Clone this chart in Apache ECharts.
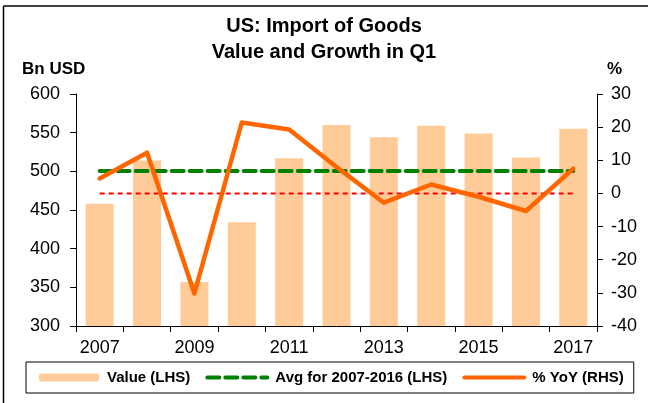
<!DOCTYPE html>
<html>
<head>
    <meta charset="UTF-8">
    <title>US: Import of Goods</title>
    <script type="text/javascript" src="https://cdn.jsdelivr.net/npm/echarts@6/dist/echarts.min.js"></script>
    <style>
        html, body { margin: 0; padding: 0; background: #fff; }
        #chart { width: 648px; height: 403px; }
    </style>
</head>
<body>
<div id="chart"></div>
<script>
    // data
    var years = ['2007', '2008', '2009', '2010', '2011', '2012', '2013', '2014', '2015', '2016', '2017'];
    var importValue = [458, 514, 357, 434, 517, 560, 544, 559, 549, 518, 555];
    var yoyGrowth = [4.5, 12.3, -30.2, 21.4, 19.3, 8.0, -2.8, 2.7, -1.0, -5.3, 7.5];
    var avgValue = 500.4;   // avg for 2007-2016
    var zeroLine = 0;       // red reference on RHS

    var avgData = years.map(function () { return avgValue; });
    var zeroData = years.map(function () { return zeroLine; });

    var font = 'Liberation Sans, Arial, sans-serif';
    var myChart = echarts.init(document.getElementById('chart'));

    myChart.setOption({
        animation: false,
        textStyle: { fontFamily: font },
        title: {
            text: 'US: Import of Goods\nValue and Growth in Q1',
            left: 'center',
            top: 8,
            textStyle: { fontSize: 20, fontWeight: 'bold', color: '#000', lineHeight: 26, fontFamily: font }
        },
        graphic: [
            // outer frame (top and left edges only)
            { type: 'line', shape: { x1: 3.5, y1: 6, x2: 648, y2: 6 }, style: { stroke: '#000', lineWidth: 1.5 } },
            { type: 'line', shape: { x1: 3.5, y1: 6, x2: 3.5, y2: 403 }, style: { stroke: '#000', lineWidth: 1.5 } },
            { type: 'text', left: 22, top: 61, style: { text: 'Bn USD', font: 'bold 17px ' + font, fill: '#000' } },
            { type: 'text', left: 607, top: 61, style: { text: '%', font: 'bold 17px ' + font, fill: '#000' } }
        ],
        legend: {
            left: 26,
            top: 362,
            padding: [8, 10, 8, 13],
            itemGap: 15,
            itemWidth: 60,
            itemHeight: 8,
            borderColor: '#000',
            borderWidth: 1,
            textStyle: { fontSize: 15, fontWeight: 'bold', color: '#000', fontFamily: font, padding: [0, 0, 0, 3] },
            data: [
                { name: 'Value (LHS)' },
                { name: 'Avg for 2007-2016 (LHS)', itemStyle: { opacity: 0 }, lineStyle: { width: 4 } },
                { name: '% YoY (RHS)', itemStyle: { opacity: 0 }, lineStyle: { width: 4 } }
            ]
        },
        grid: {
            left: 76,
            right: 51,
            top: 94,
            bottom: 77
        },
        xAxis: {
            type: 'category',
            data: years,
            boundaryGap: true,
            axisLine: { onZero: false, lineStyle: { color: '#000', width: 1 } },
            axisTick: { show: true, interval: 0, length: 6, lineStyle: { color: '#000' } },
            axisLabel: { interval: 1, color: '#000', fontSize: 18, margin: 13, fontFamily: font },
            splitLine: { show: false }
        },
        yAxis: [
            {
                type: 'value',
                min: 300,
                max: 600,
                interval: 50,
                axisLine: { show: true, lineStyle: { color: '#000', width: 1 } },
                axisTick: { show: true, length: 6, lineStyle: { color: '#000' } },
                axisLabel: { color: '#000', fontSize: 18, margin: 16, fontFamily: font },
                splitLine: { show: false }
            },
            {
                type: 'value',
                min: -40,
                max: 30,
                interval: 10,
                position: 'right',
                axisLine: { show: true, lineStyle: { color: '#000', width: 1 } },
                axisTick: { show: true, length: 6, lineStyle: { color: '#000' } },
                axisLabel: { color: '#000', fontSize: 18, margin: 14, fontFamily: font },
                splitLine: { show: false }
            }
        ],
        series: [
            {
                name: 'Value (LHS)',
                type: 'bar',
                yAxisIndex: 0,
                barWidth: 28,
                itemStyle: { color: '#FFCC99' },
                data: importValue,
                z: 1
            },
            {
                name: 'Avg for 2007-2016 (LHS)',
                type: 'line',
                yAxisIndex: 0,
                symbol: 'none',
                lineStyle: { color: '#008000', width: 4, type: [12, 6], cap: 'round' },
                itemStyle: { color: '#008000' },
                data: avgData,
                z: 3
            },
            {
                name: 'zero',
                type: 'line',
                yAxisIndex: 1,
                symbol: 'none',
                lineStyle: { color: '#FF0000', width: 2, type: [5, 4] },
                data: zeroData,
                z: 2
            },
            {
                name: '% YoY (RHS)',
                type: 'line',
                yAxisIndex: 1,
                symbol: 'none',
                lineStyle: { color: '#FF6600', width: 4.5, cap: 'round', join: 'round' },
                itemStyle: { color: '#FF6600' },
                data: yoyGrowth,
                z: 4
            }
        ]
    });
</script>
</body>
</html>
